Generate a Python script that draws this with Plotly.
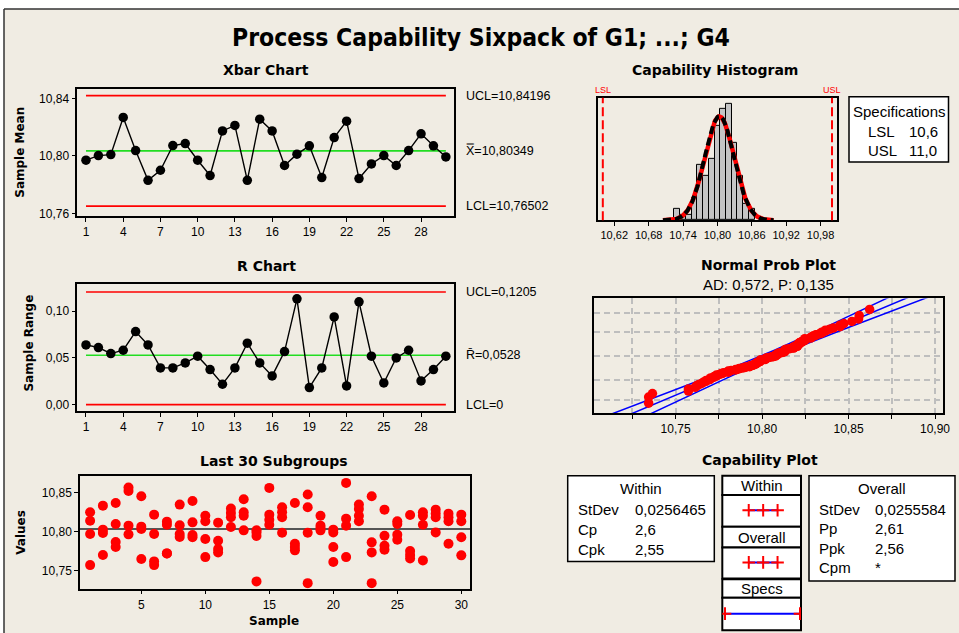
import numpy as np
import plotly.graph_objects as go
from statistics import NormalDist

W, H = 959, 633
FIG_W, FIG_H = 966, 638

# ------------------------------------------------------------------ data
subgroups = list(range(1, 31))

xbar_values = [10.7970, 10.8002, 10.8009, 10.8268, 10.8037, 10.7830, 10.7900, 10.8072, 10.8086, 10.7970,
               10.7863, 10.8174, 10.8212, 10.7830, 10.8256, 10.8174, 10.7933, 10.8012, 10.8070, 10.7849,
               10.8128, 10.8242, 10.7842, 10.7944, 10.8002, 10.7933, 10.8037, 10.8154, 10.8070, 10.7993]
xbar_ucl = 10.84196
xbar_cl = 10.80349
xbar_lcl = 10.76502

range_values = [0.0639, 0.0611, 0.0546, 0.0582, 0.0782, 0.0639, 0.0393, 0.0393, 0.0446, 0.0518,
                0.0375, 0.0218, 0.0393, 0.0657, 0.0446, 0.0307, 0.0568, 0.1132, 0.0182, 0.0393,
                0.0939, 0.0200, 0.1100, 0.0518, 0.0232, 0.0500, 0.0582, 0.0254, 0.0375, 0.0518]
r_ucl = 0.1205
r_cl = 0.0528
r_lcl = 0.0

sample_values = [
    [10.8247, 10.8140, 10.7970, 10.7574],
    [10.8332, 10.8026, 10.7983, 10.7702],
    [10.8366, 10.8098, 10.7868, 10.7804],
    [10.8562, 10.8519, 10.8077, 10.7966],
    [10.8451, 10.8064, 10.8034, 10.7651],
    [10.8217, 10.7970, 10.7621, 10.7574],
    [10.8128, 10.8089, 10.7723, 10.7723],
    [10.8345, 10.8081, 10.7970, 10.7932],
    [10.8392, 10.8119, 10.7957, 10.7928],
    [10.8204, 10.8132, 10.7906, 10.7676],
    [10.8115, 10.7885, 10.7779, 10.7736],
    [10.8294, 10.8238, 10.8183, 10.8060],
    [10.8413, 10.8247, 10.8204, 10.8017],
    [10.8017, 10.7991, 10.7946, 10.7366],
    [10.8558, 10.8217, 10.8153, 10.8089],
    [10.8311, 10.8247, 10.8183, 10.7987],
    [10.8366, 10.7847, 10.7804, 10.7762],
    [10.8473, 10.8311, 10.7987, 10.7344],
    [10.8204, 10.8077, 10.8047, 10.8017],
    [10.8026, 10.7990, 10.7804, 10.7613],
    [10.8622, 10.8166, 10.8077, 10.7676],
    [10.8345, 10.8290, 10.8204, 10.8132],
    [10.8451, 10.7864, 10.7736, 10.7344],
    [10.8281, 10.7949, 10.7821, 10.7770],
    [10.8132, 10.8098, 10.7962, 10.7898],
    [10.8213, 10.7753, 10.7702, 10.7659],
    [10.8247, 10.8204, 10.8089, 10.7634],
    [10.8281, 10.8230, 10.8183, 10.7991],
    [10.8230, 10.8183, 10.8132, 10.7847],
    [10.8217, 10.8132, 10.7928, 10.7698],
]

hist_centers = [10.73, 10.74, 10.75, 10.76, 10.77, 10.78, 10.79, 10.80,
                10.81, 10.82, 10.83, 10.84, 10.85, 10.86]
hist_counts = [2, 1, 1, 4, 10, 8, 11, 17, 20, 21, 14, 8, 3, 2]
hist_bin_width = 0.01

lsl = 10.6
usl = 11.0
process_mean = 10.80349
sd_within = 0.0256465
sd_overall = 0.0255584
cp, cpk = 2.6, 2.55
pp, ppk = 2.61, 2.56
cpm = "*"
ad_stat, p_value = 0.572, 0.135

xbar_ticks = [1, 4, 7, 10, 13, 16, 19, 22, 25, 28]
xbar_yticks = [10.76, 10.80, 10.84]
r_yticks = [0.00, 0.05, 0.10]
last_xticks = [5, 10, 15, 20, 25, 30]
last_yticks = [10.75, 10.80, 10.85]
hist_ticks = [10.62, 10.68, 10.74, 10.80, 10.86, 10.92, 10.98]
prob_ticks = [10.725, 10.75, 10.775, 10.80, 10.825, 10.85, 10.875, 10.90]
prob_ticklabels = ["", "10,75", "", "10,80", "", "10,85", "", "10,90"]
prob_percent_grid = [1, 10, 50, 90, 99]


def num(v):
    return str(v).replace(".", ",")


def fmt(v, d):
    return f"{v:.{d}f}".replace(".", ",")


# ------------------------------------------------------------------ helpers
def dx(a, b):
    return [a / W, b / W]


def dy(top, bottom):
    return [1 - bottom / H, 1 - top / H]


def px(x):
    return x / W


def py(y):
    return 1 - y / H


BG = "#F0ECE3"
TXT = "Liberation Sans, Arial, sans-serif"
BOLD = "DejaVu Sans, Verdana, sans-serif"
TICKFONT = dict(family=TXT, size=12, color="black")


def axis(domain, rng, **kw):
    d = dict(domain=domain, range=rng, showline=True, mirror=True, linecolor="black",
             linewidth=1.5, ticks="outside", ticklen=4, tickwidth=1.2, tickcolor="black",
             showgrid=False, zeroline=False, tickfont=TICKFONT, fixedrange=True)
    d.update(kw)
    return d


fig = go.Figure()

# ------------------------------------------------------------------ Xbar chart
for val, col in [(xbar_ucl, "red"), (xbar_lcl, "red"), (xbar_cl, "#22DD22")]:
    fig.add_trace(go.Scatter(x=[subgroups[0], subgroups[-1]], y=[val, val], mode="lines",
                             line=dict(color=col, width=1.6), xaxis="x", yaxis="y",
                             hoverinfo="skip"))
fig.add_trace(go.Scatter(x=subgroups, y=xbar_values, mode="lines+markers",
                         line=dict(color="black", width=1.4),
                         marker=dict(color="black", size=9.5), xaxis="x", yaxis="y"))

# ------------------------------------------------------------------ R chart
for val, col in [(r_ucl, "red"), (r_lcl, "red"), (r_cl, "#22DD22")]:
    fig.add_trace(go.Scatter(x=[subgroups[0], subgroups[-1]], y=[val, val], mode="lines",
                             line=dict(color=col, width=1.6), xaxis="x2", yaxis="y2",
                             hoverinfo="skip"))
fig.add_trace(go.Scatter(x=subgroups, y=range_values, mode="lines+markers",
                         line=dict(color="black", width=1.4),
                         marker=dict(color="black", size=9.5), xaxis="x2", yaxis="y2"))

# ------------------------------------------------------------------ Last 30 subgroups
sx, sy = [], []
for g, vals in zip(subgroups, sample_values):
    for v in vals:
        sx.append(g)
        sy.append(v)
fig.add_trace(go.Scatter(x=sx, y=sy, mode="markers", marker=dict(color="red", size=10),
                         xaxis="x3", yaxis="y3"))

# ------------------------------------------------------------------ Capability histogram
fig.add_trace(go.Bar(x=hist_centers, y=hist_counts, width=hist_bin_width,
                     marker=dict(color="#C4C4C4", line=dict(color="black", width=1)),
                     xaxis="x4", yaxis="y4"))
n_total = sum(len(v) for v in sample_values)
xc = np.linspace(10.705, 10.898, 200)
scale = n_total * hist_bin_width
pdf_w = scale * np.exp(-0.5 * ((xc - process_mean) / sd_within) ** 2) / (sd_within * np.sqrt(2 * np.pi))
pdf_o = scale * np.exp(-0.5 * ((xc - process_mean) / sd_overall) ** 2) / (sd_overall * np.sqrt(2 * np.pi))
fig.add_trace(go.Scatter(x=xc, y=pdf_w, mode="lines", line=dict(color="red", width=4.5),
                         xaxis="x4", yaxis="y4"))
fig.add_trace(go.Scatter(x=xc, y=pdf_o, mode="lines",
                         line=dict(color="black", width=4, dash="8px,4px"),
                         xaxis="x4", yaxis="y4"))

# ------------------------------------------------------------------ Normal probability plot
nd = NormalDist()
sorted_vals = sorted(sy)
n = len(sorted_vals)
prob_z = [nd.inv_cdf((i + 1 - 0.3) / (n + 0.4)) for i in range(n)]
z = np.linspace(-3.4, 3.4, 120)
fit = process_mean + z * sd_overall
half = 1.96 * sd_overall * np.sqrt((1 + z ** 2 / 2) / n)
for line_x in (fit, fit - half, fit + half):
    fig.add_trace(go.Scatter(x=line_x, y=z, mode="lines", line=dict(color="#0000FF", width=1.5),
                             xaxis="x5", yaxis="y5"))
fig.add_trace(go.Scatter(x=sorted_vals, y=prob_z, mode="markers",
                         marker=dict(color="red", size=9.5), xaxis="x5", yaxis="y5"))

# ------------------------------------------------------------------ Capability plot glyphs
glyph_rows = [
    (process_mean - 3 * sd_within, process_mean, process_mean + 3 * sd_within, 509.5),
    (process_mean - 3 * sd_overall, process_mean, process_mean + 3 * sd_overall, 561.5),
]
for lo, mid, hi, ypos in glyph_rows:
    fig.add_trace(go.Scatter(x=[lo, hi], y=[ypos, ypos], mode="lines",
                             line=dict(color="#0000FF", width=2), xaxis="x6", yaxis="y6"))
    fig.add_trace(go.Scatter(x=[lo, mid, hi], y=[ypos] * 3, mode="markers",
                             marker=dict(symbol="cross-thin", size=9,
                                         line=dict(color="red", width=2)),
                             xaxis="x6", yaxis="y6"))
fig.add_trace(go.Scatter(x=[lsl, usl], y=[612.7, 612.7], mode="lines",
                         line=dict(color="#0000FF", width=2), xaxis="x6", yaxis="y6"))
fig.add_trace(go.Scatter(x=[lsl, usl], y=[612.7, 612.7], mode="markers",
                         marker=dict(symbol="cross-thin", size=9, line=dict(color="red", width=2)),
                         xaxis="x6", yaxis="y6"))

# ------------------------------------------------------------------ layout / axes
prob_grid_z = [nd.inv_cdf(p / 100) for p in prob_percent_grid]

fig.update_layout(
    width=FIG_W, height=FIG_H, autosize=False,
    margin=dict(l=0, r=0, t=0, b=0),
    paper_bgcolor="white", plot_bgcolor="white",
    font=dict(family=TXT, color="black"),
    showlegend=False, separators=",.",
    bargap=0,
    xaxis=axis(dx(77.3, 454.3), [0.3, 30.68], anchor="y", tickvals=xbar_ticks),
    yaxis=axis(dy(89, 215.7), [10.7581, 10.8465], anchor="x", tickvals=xbar_yticks, tickformat=".2f"),
    xaxis2=axis(dx(77.3, 454.3), [0.3, 30.68], anchor="y2", tickvals=xbar_ticks),
    yaxis2=axis(dy(284, 410.7), [-0.0072, 0.1286], anchor="x2", tickvals=r_yticks, tickformat=".2f"),
    xaxis3=axis(dx(80, 470), [0.21, 30.68], anchor="y3", tickvals=last_xticks),
    yaxis3=axis(dy(475, 587.7), [10.7274, 10.8713], anchor="x3", tickvals=last_yticks, tickformat=".2f"),
    xaxis4=axis(dx(598, 837), [10.5916, 11.0087], anchor="y4", tickvals=hist_ticks, tickformat=".2f",
                tickfont=dict(family=TXT, size=11, color="black")),
    yaxis4=axis(dy(97.7, 220), [0, 22], anchor="x4", ticks="", showticklabels=False),
    xaxis5=axis(dx(594, 943.3), [10.7028, 10.9048], anchor="y5", tickvals=prob_ticks,
                ticktext=prob_ticklabels, showgrid=True, gridcolor="#BEBEBE", gridwidth=1.5,
                griddash="6px,4px"),
    yaxis5=axis(dy(298, 412.5), [-3.06, 3.11], anchor="x5", tickvals=prob_grid_z,
                showticklabels=False, ticks="", showgrid=True, gridcolor="#BEBEBE",
                gridwidth=1.5, griddash="6px,4px"),
    xaxis6=dict(domain=dx(722.3, 801), range=[10.5856, 11.0053], visible=False, anchor="y6",
                fixedrange=True),
    yaxis6=dict(domain=dy(475, 629.3), range=[629.3, 475], visible=False, anchor="x6",
                fixedrange=True),
)

shapes = []
# outer beige panel with left / top frame lines
shapes.append(dict(type="rect", xref="paper", yref="paper", x0=px(4), x1=1,
                   y0=0, y1=py(9), fillcolor=BG, line=dict(width=0), layer="below"))
shapes.append(dict(type="line", xref="paper", yref="paper", x0=px(4), x1=px(4), y0=0, y1=py(9),
                   line=dict(color="#333333", width=1.5), layer="below"))
shapes.append(dict(type="line", xref="paper", yref="paper", x0=px(4), x1=1, y0=py(9), y1=py(9),
                   line=dict(color="#333333", width=1.5), layer="below"))
# LSL / USL lines
for v in (lsl, usl):
    shapes.append(dict(type="line", xref="x4", yref="y4 domain", x0=v, x1=v, y0=0, y1=1,
                       line=dict(color="red", width=2, dash="9px,4px")))
# center line of last 30 subgroups
shapes.append(dict(type="line", xref="x3 domain", yref="y3", x0=0, x1=1, y0=xbar_cl, y1=xbar_cl,
                   line=dict(color="#555555", width=2), layer="below"))


def box(x0, y0, x1, y1, w=1.5):
    shapes.append(dict(type="rect", xref="paper", yref="paper", x0=px(x0), x1=px(x1),
                       y0=py(y1), y1=py(y0), fillcolor="white", line=dict(color="black", width=w),
                       layer="below"))


box(849, 96.7, 948.5, 161.7)           # specifications table
box(567.7, 475, 714.3, 560.7)          # within table
box(809, 475, 955, 580)                # overall table
box(722.3, 475, 801, 494.3, 2)         # within header
box(722.3, 494.3, 801, 526, 2)
box(722.3, 526, 801, 546.7, 2)         # overall header
box(722.3, 546.7, 801, 577.7, 2)
box(722.3, 578.3, 801, 596.7, 2)       # specs header
box(722.3, 596.7, 801, 629.3, 2)
fig.update_layout(shapes=shapes)

ann = []


def text(x, y, s, size=12, family=TXT, color="black", anchor="center", bold=False, angle=0):
    ann.append(dict(xref="paper", yref="paper", x=px(x), y=py(y), text=f"<b>{s}</b>" if bold else s,
                    showarrow=False, xanchor=anchor, yanchor="middle", textangle=angle,
                    font=dict(family=family, size=size, color=color)))


def limit_label(yref, yval, s):
    ann.append(dict(xref="paper", yref=yref, x=px(464), y=yval, text=s,
                    showarrow=False, xanchor="left", yanchor="middle",
                    font=dict(family=TXT, size=12.5, color="black")))


text(481, 37, "Process Capability Sixpack of G1; ...; G4", size=24.5,
     family="Liberation Sans Narrow, Arial Narrow, DejaVu Sans Condensed, sans-serif", bold=True)

text(265.5, 70, "Xbar Chart", size=14, family=BOLD, bold=True)
text(266, 266, "R Chart", size=14, family=BOLD, bold=True)
text(274, 460, "Last 30 Subgroups", size=14, family=BOLD, bold=True)
text(715, 70, "Capability Histogram", size=14, family=BOLD, bold=True)
text(768, 265, "Normal Prob Plot", size=14, family=BOLD, bold=True)
text(760, 459, "Capability Plot", size=14, family=BOLD, bold=True)
text(768, 284.5, f"AD: {fmt(ad_stat, 3)}, P: {fmt(p_value, 3)}", size=15)

text(20.5, 152, "Sample Mean", size=12, family=BOLD, bold=True, angle=-90)
text(29, 343, "Sample Range", size=12, family=BOLD, bold=True, angle=-90)
text(21, 532, "Values", size=12, family=BOLD, bold=True, angle=-90)
text(274, 620, "Sample", size=12, family=BOLD, bold=True)

# control limit labels
limit_label("y", xbar_ucl, f"UCL={fmt(xbar_ucl, 5)}")
limit_label("y", xbar_cl, f"X\u033F={fmt(xbar_cl, 5)}")
limit_label("y", xbar_lcl, f"LCL={fmt(xbar_lcl, 5)}")
limit_label("y2", r_ucl, f"UCL={fmt(r_ucl, 4)}")
limit_label("y2", r_cl, f"R\u0304={fmt(r_cl, 4)}")
limit_label("y2", r_lcl, f"LCL={r_lcl:g}")

# LSL / USL labels
ann.append(dict(xref="x4", yref="paper", x=lsl, y=py(90), text="LSL", showarrow=False,
                xanchor="center", yanchor="middle", font=dict(family=TXT, size=9, color="red")))
ann.append(dict(xref="x4", yref="paper", x=usl, y=py(90), text="USL", showarrow=False,
                xanchor="center", yanchor="middle", font=dict(family=TXT, size=9, color="red")))

# specifications table
text(899, 111, "Specifications", size=15)
text(865.5, 131, "LSL", size=15, anchor="left")
text(907, 131, num(lsl), size=15, anchor="left")
text(865.5, 150.5, "USL", size=15, anchor="left")
text(907, 150.5, num(usl), size=15, anchor="left")

# within table
text(641, 488, "Within", size=15)
for lab, val, yy in [("StDev", num(sd_within), 508.3), ("Cp", num(cp), 528.3), ("Cpk", num(cpk), 548.3)]:
    text(575.7, yy, lab, size=15, anchor="left")
    text(633.3, yy, val, size=15, anchor="left")

# overall table
text(882, 488, "Overall", size=15)
for lab, val, yy in [("StDev", num(sd_overall), 508.3), ("Pp", num(pp), 527.8),
                     ("Ppk", num(ppk), 547.6), ("Cpm", cpm, 567)]:
    text(817.3, yy, lab, size=15, anchor="left")
    text(873.3, yy, val, size=15, anchor="left")

# middle column headers
text(761.7, 485, "Within", size=15)
text(761.7, 537, "Overall", size=15)
text(761.7, 588, "Specs", size=15)

fig.update_layout(annotations=ann)

fig.write_html("out.html")
